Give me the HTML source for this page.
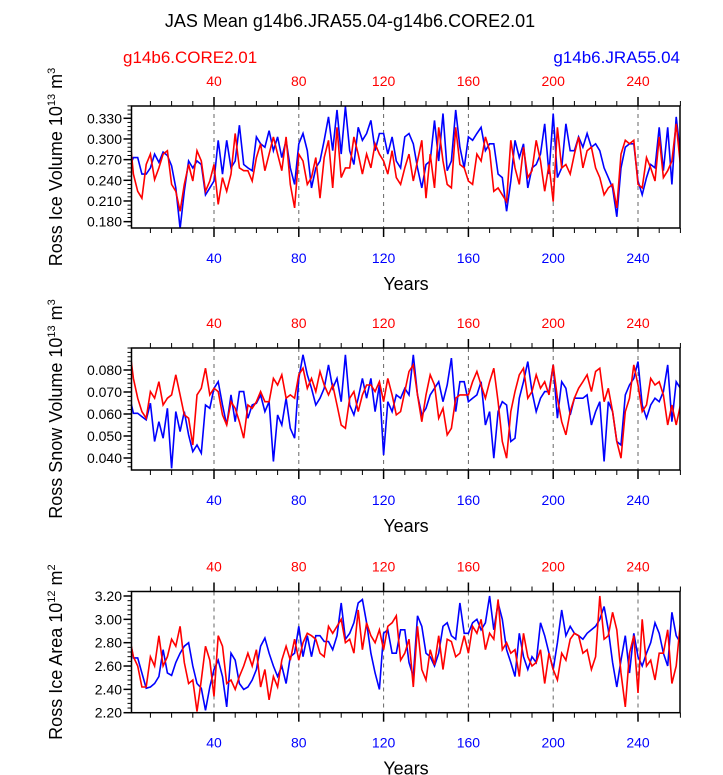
<!DOCTYPE html>
<html><head><meta charset="utf-8"><style>
body{margin:0;background:#fff}
svg{display:block;font-family:"Liberation Sans",sans-serif}
</style></head><body>
<svg id="chart" width="723" height="775" viewBox="0 0 723 775" xmlns="http://www.w3.org/2000/svg">
<text x="350" y="27" font-size="18" text-anchor="middle" fill="#000">JAS Mean g14b6.JRA55.04-g14b6.CORE2.01</text>
<text x="123" y="63" font-size="17" fill="#f00">g14b6.CORE2.01</text>
<text x="680" y="63" font-size="17" fill="#00f" text-anchor="end">g14b6.JRA55.04</text>
<g id="panels"></g>
</svg>
<script>
// years sampled every 2
const years = [];
for (let y = 0; y <= 260; y += 2) years.push(y);

const xTicks = [40, 80, 120, 160, 200, 240];

const volBlue = [.258,.273,.273,.249,.249,.258,.278,.266,.281,.276,.261,.229,.170,.224,.268,.258,.268,.263,.219,.229,.239,.298,.249,.298,.258,.268,.320,.263,.258,.254,.303,.293,.288,.312,.283,.303,.273,.298,.258,.234,.293,.308,.283,.229,.258,.268,.298,.332,.283,.342,.278,.347,.283,.263,.317,.298,.308,.327,.283,.308,.308,.278,.303,.268,.258,.303,.308,.293,.258,.229,.263,.268,.327,.268,.337,.254,.268,.342,.288,.258,.303,.298,.308,.317,.283,.293,.293,.249,.244,.195,.239,.298,.273,.293,.229,.258,.263,.278,.322,.249,.337,.244,.258,.322,.283,.283,.303,.288,.308,.288,.293,.283,.258,.244,.229,.187,.258,.288,.293,.293,.239,.219,.244,.263,.258,.317,.254,.317,.234,.332,.278];
const volRed = [.312,.249,.224,.214,.263,.278,.241,.258,.278,.283,.234,.224,.195,.234,.263,.239,.283,.268,.224,.239,.263,.205,.244,.224,.249,.308,.258,.254,.254,.239,.273,.293,.254,.278,.303,.278,.254,.303,.234,.200,.278,.268,.234,.244,.273,.214,.273,.298,.229,.317,.244,.258,.258,.303,.278,.249,.278,.258,.293,.278,.268,.249,.283,.244,.234,.258,.278,.239,.268,.298,.214,.278,.229,.317,.268,.234,.229,.317,.263,.258,.239,.234,.278,.268,.303,.283,.224,.229,.219,.209,.298,.258,.234,.288,.244,.254,.298,.268,.224,.263,.209,.317,.258,.263,.249,.278,.303,.258,.283,.288,.258,.244,.219,.229,.234,.200,.278,.298,.293,.298,.234,.229,.273,.258,.239,.303,.244,.254,.268,.322,.263];

const snowBlue = [.0687,.0603,.0603,.0588,.0573,.0649,.0475,.0565,.0490,.0626,.0353,.0611,.0520,.0611,.0505,.0429,.0459,.0422,.0641,.0626,.0717,.0747,.0641,.0550,.0687,.0565,.0702,.0702,.0581,.0641,.0649,.0687,.0611,.0656,.0384,.0596,.0550,.0672,.0535,.0490,.0762,.0869,.0778,.0717,.0641,.0672,.0717,.0823,.0717,.0762,.0656,.0869,.0641,.0596,.0672,.0762,.0672,.0762,.0611,.0732,.0414,.0656,.0611,.0687,.0672,.0717,.0687,.0869,.0687,.0596,.0626,.0687,.0717,.0747,.0656,.0732,.0854,.0611,.0747,.0747,.0656,.0672,.0687,.0747,.0550,.0611,.0399,.0611,.0656,.0641,.0475,.0490,.0672,.0747,.0838,.0702,.0611,.0672,.0702,.0702,.0823,.0581,.0747,.0717,.0596,.0672,.0672,.0672,.0687,.0550,.0611,.0656,.0384,.0656,.0611,.0475,.0459,.0687,.0732,.0762,.0838,.0641,.0581,.0641,.0672,.0656,.0702,.0823,.0565,.0747,.0717];
const snowRed = [.0914,.0762,.0672,.0611,.0581,.0702,.0672,.0747,.0641,.0672,.0687,.0778,.0687,.0596,.0581,.0459,.0687,.0717,.0808,.0687,.0717,.0702,.0596,.0550,.0656,.0626,.0565,.0490,.0641,.0626,.0656,.0702,.0656,.0656,.0762,.0732,.0778,.0672,.0687,.0672,.0778,.0808,.0717,.0762,.0702,.0793,.0732,.0687,.0732,.0641,.0550,.0535,.0672,.0702,.0611,.0687,.0732,.0732,.0702,.0747,.0656,.0762,.0687,.0596,.0611,.0702,.0793,.0823,.0687,.0565,.0687,.0778,.0732,.0581,.0626,.0505,.0535,.0672,.0687,.0687,.0687,.0747,.0793,.0732,.0672,.0747,.0808,.0656,.0475,.0399,.0611,.0702,.0778,.0808,.0672,.0702,.0778,.0717,.0747,.0687,.0823,.0672,.0565,.0505,.0611,.0672,.0717,.0747,.0778,.0702,.0793,.0808,.0656,.0717,.0611,.0475,.0399,.0611,.0672,.0823,.0732,.0611,.0641,.0762,.0732,.0747,.0687,.0550,.0641,.0550,.0641];

const areaBlue = [2.86,2.67,2.67,2.54,2.41,2.42,2.45,2.51,2.74,2.54,2.52,2.63,2.71,2.77,2.80,2.60,2.45,2.41,2.22,2.42,2.57,2.65,2.51,2.25,2.71,2.65,2.45,2.40,2.42,2.48,2.57,2.77,2.84,2.71,2.60,2.51,2.60,2.45,2.68,2.71,2.94,2.68,2.86,2.68,2.86,2.86,2.81,2.81,2.74,2.86,3.14,2.83,2.88,2.97,3.14,3.17,2.97,2.71,2.54,2.40,2.88,2.91,2.71,2.71,2.91,2.91,2.63,2.51,3.03,2.94,2.71,2.68,2.60,2.71,2.94,2.97,2.86,2.83,3.14,2.88,2.88,2.97,3.00,2.91,2.97,3.20,2.91,3.14,3.00,2.74,2.63,2.51,2.88,2.68,2.57,2.68,2.63,2.97,2.86,2.71,2.57,2.80,3.08,2.86,2.94,2.88,2.86,2.83,2.88,2.91,2.94,3.00,3.11,2.91,2.63,2.42,2.65,2.86,2.54,2.88,2.68,2.60,2.71,2.80,2.97,2.88,2.71,2.60,3.06,2.86,2.80];
const areaRed = [2.86,2.68,2.60,2.42,2.42,2.68,2.60,2.86,2.60,2.68,2.83,2.77,2.94,2.63,2.45,2.48,2.21,2.48,2.77,2.65,2.34,2.86,2.77,2.45,2.48,2.40,2.51,2.60,2.71,2.60,2.74,2.42,2.57,2.31,2.51,2.42,2.65,2.77,2.65,2.83,2.65,2.80,2.88,2.86,2.83,2.71,2.68,2.94,2.88,2.94,3.00,2.80,2.83,2.71,3.08,2.74,2.97,2.86,2.80,2.91,2.74,2.94,2.97,3.03,2.65,2.71,2.83,2.42,2.94,2.57,2.48,2.74,2.61,2.86,2.57,2.83,2.81,2.68,2.71,2.86,2.71,2.94,2.88,3.00,2.74,2.88,2.83,3.17,2.74,2.80,2.71,2.74,2.51,2.88,2.68,2.60,2.63,2.74,2.45,2.71,2.57,2.48,2.71,2.65,2.83,2.88,2.86,2.71,2.74,2.57,2.68,3.20,2.83,2.86,3.06,2.91,2.54,2.25,2.71,2.86,2.37,3.00,2.60,2.65,2.48,2.71,2.71,2.91,2.45,2.60,2.97,2.83];

const volTicks = [0.180, 0.210, 0.240, 0.270, 0.300, 0.330];
const volTickLabels = ["0.180","0.210","0.240","0.270","0.300","0.330"];
const snowTicks = [0.040, 0.050, 0.060, 0.070, 0.080];
const snowTickLabels = ["0.040","0.050","0.060","0.070","0.080"];
const areaTicks = [2.20, 2.40, 2.60, 2.80, 3.00, 3.20];
const areaTickLabels = ["2.20","2.40","2.60","2.80","3.00","3.20"];

const NS = "http://www.w3.org/2000/svg";
const root = document.getElementById('panels');
function mk(tag, attrs, parent) {
  const e = document.createElementNS(NS, tag);
  for (const k in attrs) e.setAttribute(k, attrs[k]);
  (parent || root).appendChild(e);
  return e;
}
const L = 131.5, R = 680;
const X = yr => 214 + (yr - 40) * 2.12;

function panel(p) {
  const g = mk('g', {});
  
  
  const Y = v => p.yRef + (p.vRef - v) * p.scale;
  const defs = mk('clipPath', {id: 'c' + p.name}, g);
  mk('rect', {x: L, y: p.top, width: R - L, height: p.bot - p.top}, defs);
  xTicks.forEach(t => {
    const gl = mk('line', {x1: X(t), x2: X(t), y1: p.top, y2: p.bot, stroke: '#666', 'stroke-width': 1, 'stroke-dasharray': '4,4'}, g);
    
    
  });
  [[p.blue, '#00f', 'series-jra55'], [p.red, '#f00', 'series-core2']].forEach(s => {
    const d = s[0].map((v, i) => (i ? 'L' : 'M') + X(years[i]).toFixed(1) + ' ' + Y(v).toFixed(1)).join('');
    const pa = mk('path', {d: d, fill: 'none', stroke: s[1], 'stroke-width': 1.6, 'clip-path': 'url(#c' + p.name + ')'}, g);
    
    
  });
  const box = mk('rect', {x: L, y: p.top, width: R - L, height: p.bot - p.top, fill: 'none', stroke: '#000', 'stroke-width': 1.5}, g);
  
  
  for (let t = 10; t <= 260; t += 10) {
    const maj = t % 40 === 0;
    const len = maj ? 9 : 5;
    mk('line', {x1: X(t), x2: X(t), y1: p.top, y2: p.top - len, stroke: '#000', 'stroke-width': maj ? 1.5 : 1}, g);
    mk('line', {x1: X(t), x2: X(t), y1: p.bot, y2: p.bot + len, stroke: '#000', 'stroke-width': maj ? 1.5 : 1}, g);
  }
  xTicks.forEach(t => {
    const a = mk('text', {x: X(t), y: p.top - 20, 'font-size': 14, fill: '#f00', 'text-anchor': 'middle'}, g);
    a.textContent = t;
    
    
    const b = mk('text', {x: X(t), y: p.bot + 35, 'font-size': 14, fill: '#00f', 'text-anchor': 'middle'}, g);
    b.textContent = t;
    
    
  });
  const xt = mk('text', {x: 406, y: p.bot + 62, 'font-size': 18, fill: '#000', 'text-anchor': 'middle'}, g);
  xt.textContent = 'Years';
  
  
  const step = (p.ticks[1] - p.ticks[0]) / 5;
  for (let v = p.ticks[0] - 5 * step; v <= p.ticks[p.ticks.length - 1] + 5 * step + 1e-9; v += step) {
    const y = Y(v);
    if (y < p.top - 0.5 || y > p.bot + 0.5) continue;
    mk('line', {x1: L, x2: L - 4, y1: y, y2: y, stroke: '#000', 'stroke-width': 1}, g);
  }
  p.ticks.forEach((v, i) => {
    mk('line', {x1: L, x2: L - 8, y1: Y(v), y2: Y(v), stroke: '#000', 'stroke-width': 1.5}, g);
    const t = mk('text', {x: 122, y: Y(v) + 5, 'font-size': 14, fill: '#000', 'text-anchor': 'end'}, g);
    t.textContent = p.labels[i];
    
    
  });
  const cy = (p.top + p.bot) / 2;
  const yt = mk('text', {x: 0, y: 0, 'font-size': 18, fill: '#000', 'text-anchor': 'middle', transform: 'translate(62,' + cy + ') rotate(-90)'}, g);
  
  
  const t1 = mk('tspan', {}, yt); t1.textContent = p.title + ' 10';
  const t2 = mk('tspan', {'font-size': 11, dy: -7}, yt); t2.textContent = p.exp;
  const t3 = mk('tspan', {dy: 7}, yt); t3.textContent = ' m';
  const t4 = mk('tspan', {'font-size': 11, dy: -7}, yt); t4.textContent = p.unit;
}

panel({name: 'ice-volume-panel', top: 106, bot: 228, yRef: 118.3, vRef: 0.330, scale: 689, ticks: volTicks, labels: volTickLabels, blue: volBlue, red: volRed, title: 'Ross Ice Volume', exp: '13', unit: '3'});
panel({name: 'snow-volume-panel', top: 348, bot: 470, yRef: 370, vRef: 0.080, scale: 2200, ticks: snowTicks, labels: snowTickLabels, blue: snowBlue, red: snowRed, title: 'Ross Snow Volume', exp: '13', unit: '3'});
panel({name: 'ice-area-panel', top: 591.5, bot: 712.7, yRef: 596, vRef: 3.20, scale: 116.7, ticks: areaTicks, labels: areaTickLabels, blue: areaBlue, red: areaRed, title: 'Ross Ice Area', exp: '12', unit: '2'});
</script>
</body></html>
